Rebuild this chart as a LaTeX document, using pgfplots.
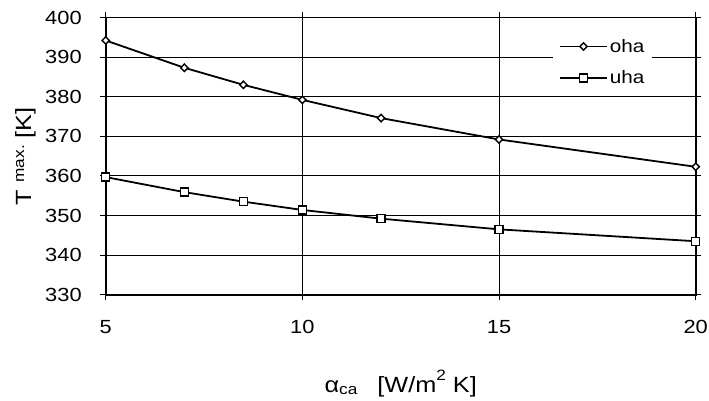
\documentclass[border=0pt]{standalone}
\usepackage{pgfplots}
\pgfplotsset{compat=1.18}
\usepackage{fontspec}
\setmainfont[FakeStretch=1.15]{Liberation Sans}
\begin{document}
\begin{tikzpicture}[x=1pt,y=1pt]
\useasboundingbox (0,0) rectangle (709,401);
\begin{axis}[
  at={(105.7pt,106.3pt)}, anchor=south west,
  scale only axis, width=590pt, height=277.2pt,
  font=\fontsize{18}{22}\selectfont,
  tick label style={font=\fontsize{19}{23}\selectfont},
  /pgf/number format/assume math mode=true,
  xmin=5, xmax=20, ymin=330, ymax=400,
  xtick={5,10,15,20}, ytick={330,340,...,400},
  grid=major, major grid style={black, line width=0.8pt},
  tick align=outside, major tick length=5.5pt,
  tick style={black, line width=0.8pt},
  axis line style={line width=1.8pt},
  xticklabel style={yshift=-17pt},
  yticklabel style={xshift=-15pt},
  xlabel={α\raisebox{-2pt}{\fontsize{15}{18}\selectfont ca}\hspace{20pt}[W/m\raisebox{12pt}{\fontsize{15}{18}\selectfont 2} K]},
  xlabel style={font=\fontsize{22}{26}\selectfont, at={(axis description cs:0.5,-0.3546)}, anchor=base},
  ylabel={T \raisebox{7pt}{\fontsize{15}{18}\selectfont max.} [K]},
  ylabel style={font=\fontsize{22}{26}\selectfont, at={(axis description cs:-0.1266,0.5)}, anchor=base},
  legend style={draw=none, fill=white, at={(0.758,0.9405)}, anchor=north west,
    row sep=13pt, inner xsep=6pt, inner ysep=3pt, font=\fontsize{18}{22}\selectfont,
    nodes={inner xsep=2pt}},
  legend cell align=left,
  legend image code/.code={\draw[mark repeat=2,mark phase=2,#1] plot coordinates {(0pt,0pt) (23.5pt,0pt) (47pt,0pt)};},
]
\addplot[black, line width=1.8pt, mark=diamond*, mark size=3.7pt,
  mark options={fill=white, line width=1.4pt, xscale=1.3}]
  coordinates {(5,394.2) (7,387.3) (8.5,383.0) (10,379.2) (12,374.6) (15,369.2) (20,362.3)};
\addlegendentry{oha}
\addplot[black, line width=1.8pt, mark=square*, mark size=4pt,
  mark options={fill=white, line width=1.4pt}]
  coordinates {(5,359.7) (7,355.9) (8.5,353.5) (10,351.4) (12,349.2) (15,346.5) (20,343.5)};
\addlegendentry{uha}
\end{axis}
\end{tikzpicture}
\end{document}
